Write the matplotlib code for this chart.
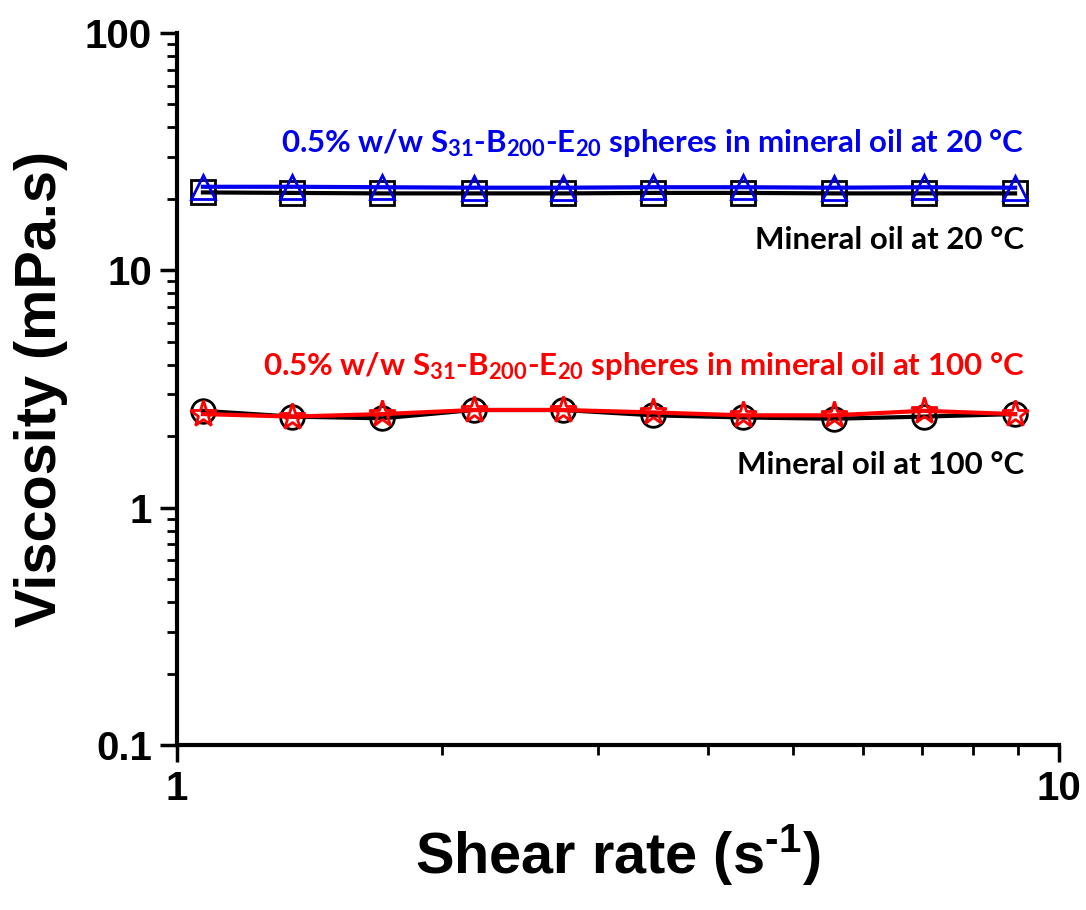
import numpy as np
import matplotlib
matplotlib.use("Agg")
import matplotlib.pyplot as plt
from matplotlib.ticker import LogLocator, NullFormatter, FixedLocator

plt.rcParams['font.family'] = ['Liberation Sans', 'DejaVu Sans']
plt.rcParams['axes.unicode_minus'] = False
plt.rcParams['mathtext.fontset'] = 'custom'
plt.rcParams['mathtext.bf'] = 'Lato:bold'
plt.rcParams['mathtext.rm'] = 'Liberation Sans:bold'
plt.rcParams['mathtext.it'] = 'Lato:bold'

# ================== DONNÉES ==================
shear = [1.07, 1.35, 1.71, 2.17, 2.74, 3.47, 4.38, 5.56, 7.03, 8.92]
oil_20 = [21.3, 21.2, 21.1, 21.1, 21.1, 21.2, 21.2, 21.1, 21.1, 21.1]
sph_20 = [22.5, 22.5, 22.4, 22.3, 22.3, 22.4, 22.4, 22.3, 22.4, 22.3]
oil_100 = [2.56, 2.42, 2.38, 2.58, 2.58, 2.45, 2.40, 2.37, 2.42, 2.48]
sph_100 = [2.48, 2.42, 2.48, 2.58, 2.58, 2.52, 2.45, 2.45, 2.56, 2.48]

lab_sph20 = r"0.5% w/w S$_{\mathbf{31}}$-B$_{\mathbf{200}}$-E$_{\mathbf{20}}$ spheres in mineral oil at 20 °C"
lab_oil20 = "Mineral oil at 20 °C"
lab_sph100 = r"0.5% w/w S$_{\mathbf{31}}$-B$_{\mathbf{200}}$-E$_{\mathbf{20}}$ spheres in mineral oil at 100 °C"
lab_oil100 = "Mineral oil at 100 °C"

# ================== FIGURE ==================
fig = plt.figure(figsize=(10.86, 9.10), dpi=100)
ax = fig.add_axes([0.163, 0.1813, 0.812, 0.7824])

mk = dict(markersize=17, markeredgewidth=2, markerfacecolor='none', linewidth=3)
ax.plot(shear, oil_20, 's-', color='black', **mk)
ax.plot(shear, sph_20, '^-', color='#0000ee', **mk)
ax.plot(shear, oil_100, 'o-', color='black', **mk)
ax.plot(shear, sph_100, '*-', color='#ff0000', markersize=20, markeredgewidth=2,
        markerfacecolor='none', linewidth=3)

ax.set_xscale('log')
ax.set_yscale('log')
ax.set_xlim(1, 10)
ax.set_ylim(0.1, 100)

ax.xaxis.set_major_locator(FixedLocator([1, 10]))
ax.set_xticklabels(['1', '10'])
ax.xaxis.set_minor_locator(LogLocator(base=10, subs=np.arange(2, 10)))
ax.xaxis.set_minor_formatter(NullFormatter())
ax.yaxis.set_major_locator(FixedLocator([0.1, 1, 10, 100]))
ax.set_yticklabels(['0.1', '1', '10', '100'])
ax.yaxis.set_minor_locator(LogLocator(base=10, subs=np.arange(2, 10)))
ax.yaxis.set_minor_formatter(NullFormatter())

for s in ['top', 'right']:
    ax.spines[s].set_visible(False)
for s in ['left', 'bottom']:
    ax.spines[s].set_linewidth(3)

ax.tick_params(which='major', direction='out', length=12, width=2.5, labelsize=29, pad=6)
ax.tick_params(which='minor', direction='out', length=7, width=2)
for lbl in ax.get_xticklabels() + ax.get_yticklabels():
    lbl.set_fontweight('bold')

ax.set_xlabel(r"Shear rate (s$^{\text{-1}}$)", fontsize=41.5, fontweight='bold', labelpad=10)
ax.set_ylabel("Viscosity (mPa.s)", fontsize=41.5, fontweight='bold', labelpad=12)

txt = dict(transform=ax.transAxes, ha='right', va='center', fontsize=22.5,
           fontweight='bold', family='Lato')
ax.text(0.961, 0.845, lab_sph20, color='#0000ee', **txt)
ax.text(0.961, 0.709, lab_oil20, color='black', **txt)
ax.text(0.961, 0.532, lab_sph100, color='#ff0000', **txt)
ax.text(0.961, 0.393, lab_oil100, color='black', **txt)

fig.savefig("out.png", dpi=100)
